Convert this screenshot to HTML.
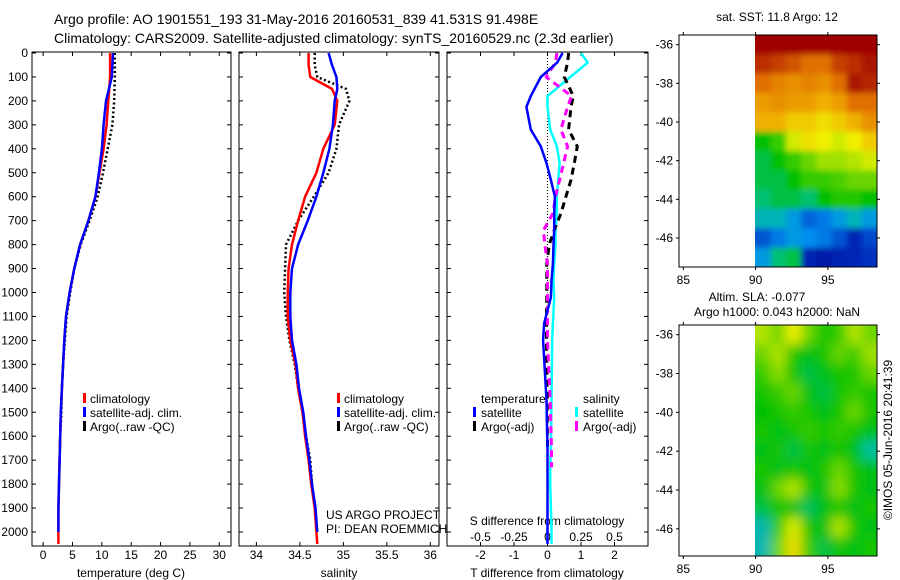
<!DOCTYPE html>
<html><head><meta charset="utf-8"><style>
html,body{margin:0;padding:0;background:#fff;}
svg{display:block;font-family:"Liberation Sans",sans-serif;}
</style></head><body>
<svg id="fig" width="900" height="580" viewBox="0 0 900 580">
<defs>
<filter id="blurS" x="-5%" y="-5%" width="110%" height="110%"><feGaussianBlur stdDeviation="3"/></filter>
<filter id="blurL" x="-5%" y="-5%" width="110%" height="110%"><feGaussianBlur stdDeviation="6"/></filter>
<clipPath id="clipS"><rect x="755" y="35" width="122" height="232"/></clipPath>
<clipPath id="clipL"><rect x="755" y="325" width="122" height="231"/></clipPath>
</defs>
<rect width="900" height="580" fill="#fff"/>
<text x="54" y="24" font-size="14">Argo profile: AO 1901551_193 31-May-2016 20160531_839 41.531S 91.498E</text>
<text x="54" y="43" font-size="14">Climatology: CARS2009. Satellite-adjusted climatology: synTS_20160529.nc (2.3d earlier)</text>
</svg>
<script>
const depths=[0,100,200,300,400,500,600,700,800,900,1000,1100,1200,1300,1400,1500,1600,1700,1800,1900,2000,2050];
const tempClim=[11.4,11.4,11.1,10.8,10.3,9.6,8.9,7.7,6.3,5.3,4.5,3.9,3.6,3.4,3.2,3.0,2.9,2.8,2.7,2.6,2.6,2.6];
const tempSat=[11.9,11.7,10.7,10.3,10.0,9.5,8.9,7.7,6.3,5.3,4.5,3.9,3.6,3.4,3.2,3.0,2.9,2.8,2.7,2.6,2.6,null];
const tempArgo=[12.2,12.2,12.1,11.8,11.0,10.2,9.3,7.9,6.4,5.3,4.6,4.0,3.7,3.4,3.2,3.1,2.9,2.8,2.7,null,null,null];
const salDepths=[0,50,100,150,200,300,400,500,600,700,800,900,1000,1100,1200,1300,1400,1500,1600,1700,1800,1900,2000,2050];
const salClim=[34.6,34.6,34.62,34.87,34.93,34.9,34.77,34.69,34.56,34.48,34.41,34.37,34.36,34.36,34.39,34.45,34.48,34.53,34.56,34.6,34.63,34.67,34.69,34.7];
const salSat=[34.83,34.87,34.92,34.93,34.9,34.88,34.84,34.77,34.69,34.59,34.48,34.41,34.39,34.39,34.41,34.46,34.49,34.54,34.57,34.61,34.64,34.68,34.7,null];
const salArgo=[34.67,34.67,34.7,35.03,35.07,34.95,34.92,34.83,34.66,34.48,34.34,34.33,34.32,34.34,34.38,34.44,34.48,34.53,34.57,34.62,34.64,null,null,null];
const diffDepths=[0,40,100,180,225,320,390,460,530,600,670,740,800,880,950,1020,1130,1200,1450,1650,1730,1800,1980,2050];
const tDiffSat=[0.45,0.29,-0.2,-0.5,-0.63,-0.5,-0.2,-0.03,0.1,0.22,0.2,0.2,0.18,0.16,0.12,0.1,-0.1,-0.13,-0.03,0,0,0,0,0];
const tDiffArgo=[0.63,0.6,0.5,0.77,0.7,0.63,0.89,0.8,0.7,0.55,0.4,0.2,0.05,-0.02,-0.02,-0.02,-0.03,-0.03,-0.01,0,null,null,null,null];
const sDiffSat=[0.25,0.3,0.17,0.0,0.0,0.02,0.07,0.09,0.08,0.07,0.07,0.06,0.06,0.05,0.045,0.05,0.04,0.035,0.03,0.025,0.02,0.02,0.03,0.03];
const sDiffArgo=[0.07,0.06,-0.01,0.18,0.15,0.1,0.15,0.12,0.09,0.06,0.04,-0.03,-0.02,0,0,0,0,0,0.02,0.03,0.03,null,null,null];
const tempTicks=[0,5,10,15,20,25,30];
const salTicks=[34,34.5,35,35.5,36];
const tDiffTicks=[-2,-1,0,1,2];
const sDiffTicks=[-0.5,-0.25,0,0.25,0.5];
const depthTicks=[0,100,200,300,400,500,600,700,800,900,1000,1100,1200,1300,1400,1500,1600,1700,1800,1900,2000];
const latTicks=[-36,-38,-40,-42,-44,-46];
const lonTicks=[85,90,95];
const sstGrid=[
[0.97,0.97,0.97,0.97,0.97,0.97,0.97,0.97],
[0.92,0.9,0.88,0.85,0.85,0.9,0.92,0.95],
[0.85,0.82,0.8,0.82,0.8,0.85,0.95,0.93],
[0.78,0.8,0.78,0.78,0.75,0.78,0.85,0.85],
[0.75,0.75,0.72,0.72,0.7,0.72,0.75,0.8],
[0.45,0.5,0.65,0.7,0.68,0.65,0.68,0.72],
[0.42,0.45,0.5,0.55,0.6,0.6,0.62,0.65],
[0.42,0.42,0.45,0.5,0.5,0.52,0.55,0.55],
[0.4,0.42,0.42,0.4,0.45,0.48,0.48,0.45],
[0.35,0.35,0.3,0.22,0.25,0.3,0.35,0.3],
[0.2,0.25,0.3,0.28,0.25,0.2,0.12,0.18],
[0.3,0.4,0.42,0.1,0.08,0.1,0.12,0.15]];
const slaGrid=[
[0.62,0.55,0.68,0.55,0.47,0.5,0.62,0.55],
[0.55,0.62,0.47,0.44,0.47,0.55,0.5,0.6],
[0.5,0.58,0.47,0.42,0.44,0.47,0.47,0.55],
[0.47,0.5,0.55,0.44,0.42,0.47,0.5,0.47],
[0.45,0.47,0.5,0.47,0.44,0.47,0.55,0.47],
[0.47,0.44,0.47,0.5,0.47,0.5,0.47,0.44],
[0.44,0.47,0.42,0.47,0.44,0.47,0.44,0.38],
[0.47,0.44,0.47,0.44,0.47,0.55,0.47,0.44],
[0.44,0.55,0.62,0.47,0.44,0.58,0.47,0.44],
[0.42,0.47,0.44,0.41,0.44,0.47,0.44,0.47],
[0.36,0.5,0.66,0.47,0.44,0.62,0.47,0.44],
[0.36,0.55,0.7,0.5,0.42,0.47,0.44,0.47]];

const NS='http://www.w3.org/2000/svg';
const svg=document.getElementById('fig');
function mk(tag,attrs,parent){const e=document.createElementNS(NS,tag);for(const k in attrs)e.setAttribute(k,attrs[k]);(parent||svg).appendChild(e);return e;}
const yTop=52,yBot=546;
function yD(d){return 53+d*0.2395;}
const P1={x0:32,x1:231,lo:-1.9,hi:32};
const P2={x0:239,x1:439,lo:33.8,hi:36.1};
const P3={x0:447,x1:648,lo:-3,hi:3};
function sx(p,v){return p.x0+(v-p.lo)/(p.hi-p.lo)*(p.x1-p.x0);}

function frame(p,name){
  const r=mk('rect',{x:p.x0,y:yTop,width:p.x1-p.x0,height:yBot-yTop,fill:'none',stroke:'#000','stroke-width':1});
  
  
  depthTicks.forEach(d=>{const y=yD(d);
    mk('line',{x1:p.x0,x2:p.x0+4,y1:y,y2:y,stroke:'#000'});
    mk('line',{x1:p.x1-4,x2:p.x1,y1:y,y2:y,stroke:'#000'});});
}
function xticks(p,ticks,name,labelY,labels){
  ticks.forEach((t,i)=>{const x=sx(p,t);
    mk('line',{x1:x,x2:x,y1:yBot,y2:yBot-4,stroke:'#000'});
    mk('line',{x1:x,x2:x,y1:yTop,y2:yTop+4,stroke:'#000'});
    const tx=mk('text',{x:x,y:labelY,'font-size':12,'text-anchor':'middle'});
    tx.textContent=labels?labels[i]:String(t);
    
    });
}
function line(p,ds,vals,color,w,dash,name){
  const pts=[];ds.forEach((d,i)=>{if(vals[i]!==null)pts.push(sx(p,vals[i]).toFixed(1)+','+yD(d).toFixed(1));});
  const a={points:pts.join(' '),fill:'none',stroke:color,'stroke-width':w,'stroke-linejoin':'round'};
  if(dash)a['stroke-dasharray']=dash;
  const e=mk('polyline',a);
  
  
}
function txt(x,y,s,name,opt){const a=Object.assign({x:x,y:y,'font-size':12},opt||{});const e=mk('text',a);e.textContent=s;
  
  return e;}
function legendMark(x,y,color,name){const e=mk('rect',{x:x,y:y-10,width:3,height:10,fill:color});
  
  }

frame(P1,'temperature-panel');
depthTicks.forEach(d=>{txt(28,yD(d)+4,String(d),'depth-tick-label',{'text-anchor':'end'});});
xticks(P1,tempTicks,'temperature-tick-label',559);
txt(131,577,'temperature (deg C)','temperature-axis-title',{'text-anchor':'middle'});
line(P1,depths,tempArgo,'#000',2.5,'2,2.5','temp-argo-line');
line(P1,depths,tempClim,'#f00',2.5,null,'temp-climatology-line');
line(P1,depths,tempSat,'#00f',2.5,null,'temp-satellite-line');
legendMark(83,403,'#f00','legend-climatology-marker');txt(90,403,'climatology','legend-climatology');
legendMark(83,417,'#00f','legend-satellite-marker');txt(90,417,'satellite-adj. clim.','legend-satellite-adj');
legendMark(83,431,'#000','legend-argo-marker');txt(90,431,'Argo(..raw -QC)','legend-argo');

frame(P2,'salinity-panel');
xticks(P2,salTicks,'salinity-tick-label',559);
txt(339,577,'salinity','salinity-axis-title',{'text-anchor':'middle'});
line(P2,salDepths,salArgo,'#000',2.5,'2,2.5','sal-argo-line');
line(P2,salDepths,salClim,'#f00',2.5,null,'sal-climatology-line');
line(P2,salDepths,salSat,'#00f',2.5,null,'sal-satellite-line');
legendMark(337,403,'#f00','legend2-climatology-marker');txt(344,403,'climatology','legend2-climatology');
legendMark(337,417,'#00f','legend2-satellite-marker');txt(344,417,'satellite-adj. clim.','legend2-satellite-adj');
legendMark(337,431,'#000','legend2-argo-marker');txt(344,431,'Argo(..raw -QC)','legend2-argo');
txt(326,519,'US ARGO PROJECT','project-label');
txt(326,533,'PI: DEAN ROEMMICH','pi-label');

frame(P3,'difference-panel');
xticks(P3,tDiffTicks,'t-diff-tick-label',559);
sDiffTicks.forEach((t,i)=>{const x=sx(P3,t*4);txt(x,541,String(t),'s-diff-tick-label',{'text-anchor':'middle'});});
txt(547,525,'S difference from climatology','s-diff-axis-title',{'text-anchor':'middle'});
txt(547,577,'T difference from climatology','t-diff-axis-title',{'text-anchor':'middle'});
{const e=mk('line',{x1:sx(P3,0),x2:sx(P3,0),y1:yTop,y2:yD(1000),stroke:'#000','stroke-width':1,'stroke-dasharray':'1,2'});
}
line(P3,diffDepths,sDiffSat.map(v=>v===null?null:v*4),'#0ff',2.5,null,'s-diff-satellite-line');
line(P3,diffDepths,tDiffArgo,'#000',3,'7,5','t-diff-argo-line');
line(P3,diffDepths,sDiffArgo.map(v=>v===null?null:v*4),'#f0f',3,'7,5','s-diff-argo-line');
line(P3,diffDepths,tDiffSat,'#00f',2.5,null,'t-diff-satellite-line');
txt(481,403,'temperature','legend3-temperature-heading');
legendMark(473,417,'#00f','legend3-t-satellite-marker');txt(481,417,'satellite','legend3-t-satellite');
legendMark(473,431,'#000','legend3-t-argo-marker');txt(481,431,'Argo(-adj)','legend3-t-argo');
txt(583,403,'salinity','legend3-salinity-heading');
legendMark(575,417,'#0ff','legend3-s-satellite-marker');txt(583,417,'satellite','legend3-s-satellite');
legendMark(575,431,'#f0f','legend3-s-argo-marker');txt(583,431,'Argo(-adj)','legend3-s-argo');

const stops=[[0,[0,0,143]],[0.15,[0,48,192]],[0.28,[0,144,240]],[0.38,[0,192,160]],[0.45,[0,192,0]],[0.6,[160,224,0]],[0.68,[240,240,0]],[0.75,[240,176,0]],[0.85,[224,112,0]],[0.97,[160,0,0]],[1,[150,0,0]]];
function cmap(v){for(let i=1;i<stops.length;i++){if(v<=stops[i][0]){const a=stops[i-1],b=stops[i];const t=(v-a[0])/(b[0]-a[0]);
  return 'rgb('+a[1].map((c,k)=>Math.round(c+(b[1][k]-c)*t)).join(',')+')';}}return 'rgb(150,0,0)';}
function drawMap(M,grid,name,clip,filt){
  const lonX=l=>M.x0+(l-M.lonLo)/(M.lonHi-M.lonLo)*(M.x1-M.x0);
  const latY=l=>M.y0+(M.latHi-l)/(M.latHi-M.latLo)*(M.y1-M.y0);
  const rows=grid.length,cols=grid[0].length;
  const dx0=lonX(90),cw=(M.x1-dx0)/cols,ch=(M.y1-M.y0)/rows;
  const outer=mk('g',{'clip-path':'url(#'+clip+')'});
  const g=mk('g',{filter:'url(#'+filt+')'},outer);
  grid.forEach((row,r)=>row.forEach((v,c)=>{
    let x=dx0+c*cw,y=M.y0+r*ch,w=cw+0.5,h=ch+0.5;
    if(c===0){x-=12;w+=12;}
    if(c===cols-1)w+=12; if(r===0){y-=12;h+=12;} if(r===rows-1)h+=12;
    const e=mk('rect',{x:x,y:y,width:w,height:h,fill:cmap(v)},g);
    
    }));
  const f=mk('rect',{x:M.x0,y:M.y0,width:M.x1-M.x0,height:M.y1-M.y0,fill:'none',stroke:'#000'});
  
  
  latTicks.forEach(l=>{const y=latY(l);mk('line',{x1:M.x0-3,x2:M.x0,y1:y,y2:y,stroke:'#000'});mk('line',{x1:M.x1,x2:M.x1+3,y1:y,y2:y,stroke:'#000'});
    txt(M.x0-6,y+4,String(l),name+'-lat-label',{'text-anchor':'end'});});
  lonTicks.forEach(l=>{const x=lonX(l);mk('line',{x1:x,x2:x,y1:M.y1,y2:M.y1+3,stroke:'#000'});mk('line',{x1:x,x2:x,y1:M.y0-3,y2:M.y0,stroke:'#000'});
    txt(x,M.y1+17,String(l),name+'-lon-label',{'text-anchor':'middle'});});
}
drawMap({x0:679,x1:877,y0:35,y1:267,lonLo:84.7,lonHi:98.4,latLo:-47.5,latHi:-35.5},sstGrid,'sst-map','clipS','blurS');
drawMap({x0:679,x1:877,y0:325,y1:556,lonLo:84.7,lonHi:98.4,latLo:-47.4,latHi:-35.5},slaGrid,'sla-map','clipL','blurL');
txt(777,21,'sat. SST: 11.8 Argo: 12','sst-map-title',{'text-anchor':'middle'});
txt(757,301,'Altim. SLA: -0.077','sla-map-title',{'text-anchor':'middle'});
txt(777,316,'Argo h1000: 0.043 h2000: NaN','argo-height-label',{'text-anchor':'middle'});
txt(0,0,'\u00A9IMOS 05-Jun-2016 20:41:39','imos-timestamp',{transform:'translate(892,440) rotate(-90)','text-anchor':'middle'});
</script>
</body></html>
